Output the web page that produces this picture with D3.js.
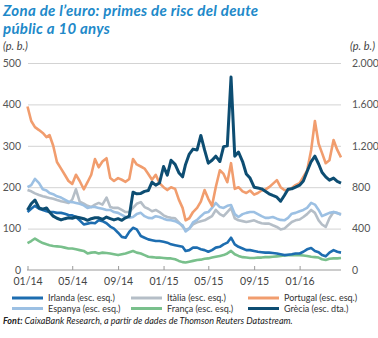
<!DOCTYPE html>
<html><head><meta charset="utf-8">
<script src="https://cdn.jsdelivr.net/npm/d3@7"></script>
<style>
html,body{margin:0;padding:0;background:#fff;}
svg{display:block;}
</style></head>
<body><svg id="c" width="378" height="338"></svg>
<script>
const dates = ["2014-01-01","2014-01-11","2014-01-21","2014-02-01","2014-02-11","2014-02-21","2014-03-01","2014-03-11","2014-03-21","2014-04-01","2014-04-11","2014-04-21","2014-05-01","2014-05-11","2014-05-21","2014-06-01","2014-06-11","2014-06-21","2014-07-01","2014-07-11","2014-07-21","2014-08-01","2014-08-11","2014-08-21","2014-09-01","2014-09-11","2014-09-21","2014-10-01","2014-10-11","2014-10-21","2014-11-01","2014-11-11","2014-11-21","2014-12-01","2014-12-11","2014-12-21","2015-01-01","2015-01-11","2015-01-21","2015-02-01","2015-02-11","2015-02-21","2015-03-01","2015-03-11","2015-03-21","2015-04-01","2015-04-11","2015-04-21","2015-05-01","2015-05-11","2015-05-21","2015-06-01","2015-06-11","2015-06-21","2015-07-01","2015-07-11","2015-07-21","2015-08-01","2015-08-11","2015-08-21","2015-09-01","2015-09-11","2015-09-21","2015-10-01","2015-10-11","2015-10-21","2015-11-01","2015-11-11","2015-11-21","2015-12-01","2015-12-11","2015-12-21","2016-01-01","2016-01-11","2016-01-21","2016-02-01","2016-02-11","2016-02-21","2016-03-01","2016-03-11","2016-03-21","2016-04-01","2016-04-11","2016-04-21"];

const irlanda = [140,148,155,148,145,142,140,140,138,138,136,133,132,128,120,110,112,114,113,120,118,113,105,100,90,80,78,92,102,98,82,78,74,72,70,70,68,66,62,60,58,56,46,48,54,54,50,48,44,48,54,56,62,66,78,62,56,52,48,48,46,44,43,42,42,41,40,38,36,37,38,40,40,44,50,53,46,43,36,33,42,48,44,42];
const italia = [193,190,185,181,178,176,174,172,169,166,164,162,170,195,165,160,155,152,158,162,158,175,152,150,150,145,140,140,150,160,164,152,148,142,145,140,132,128,126,125,115,105,97,100,110,115,118,120,125,130,145,135,130,140,150,125,120,118,116,118,120,116,113,112,112,108,104,98,100,108,116,120,122,128,135,145,138,120,110,104,125,140,137,135];
const portugal = [395,360,345,338,331,321,326,300,261,245,230,215,208,230,215,195,212,230,268,248,262,270,222,215,222,218,213,220,268,255,250,245,232,218,230,210,200,193,200,196,170,150,120,125,140,150,165,193,172,155,200,241,232,212,258,196,200,190,186,192,182,186,192,194,200,208,217,200,193,193,198,205,210,225,240,290,360,305,283,258,265,314,290,272];
const espanya = [200,205,220,210,195,192,186,183,178,175,170,165,164,162,160,156,150,152,152,150,148,145,145,140,138,133,128,126,128,135,138,130,126,125,130,128,124,121,120,118,113,108,93,100,115,121,130,138,140,150,162,152,150,155,157,135,128,135,138,140,140,135,130,126,126,128,124,121,120,126,136,138,142,145,150,162,158,145,130,134,138,140,138,133];
const franca = [65,70,76,70,65,62,60,58,57,56,54,52,52,50,48,46,40,42,43,40,42,41,40,38,36,38,40,43,46,42,40,36,32,31,30,30,29,28,28,26,22,19,18,20,22,24,25,27,28,30,32,34,36,40,46,38,34,31,30,29,29,30,30,31,31,32,33,34,35,36,36,36,36,35,34,32,31,30,26,24,27,28,28,29];
const grecia = [580,640,676,600,588,600,560,520,500,484,496,504,500,512,504,496,480,496,504,504,488,512,496,484,496,480,504,520,752,736,740,760,768,848,820,840,1000,916,1060,1020,940,900,1020,1120,1168,1160,1300,1160,1032,1060,1100,1048,1192,1200,1864,1100,1140,1048,928,888,800,792,784,760,736,720,704,664,720,780,784,800,820,860,952,1048,1100,1024,944,900,868,888,856,840];

const xTicks = ["2014-01-01","2014-05-01","2014-09-01","2015-01-01","2015-05-01","2015-09-01","2016-01-01"];
const xTickLabels = ["01/14","05/14","09/14","01/15","05/15","09/15","01/16"];
const leftTicks = [0,100,200,300,400,500];
const rightTicks = [0,400,800,1200,1600,2000];

const parse = d3.timeParse("%Y-%m-%d");
const D = dates.map(parse);

const series = [
  {name:"Itàlia (esc. esq.)", values:italia, color:"#b5bec7", axis:"L"},
  {name:"Espanya (esc. esq.)", values:espanya, color:"#9cc0e3", axis:"L"},
  {name:"França (esc. esq.)", values:franca, color:"#79c08c", axis:"L"},
  {name:"Irlanda (esc. esq.)", values:irlanda, color:"#1d6db0", axis:"L"},
  {name:"Portugal (esc. esq.)", values:portugal, color:"#f19d6e", axis:"L"},
  {name:"Grècia (esc. dta.)", values:grecia, color:"#0d4d72", axis:"R"}
];

const svg = d3.select("#c");
const x = d3.scaleTime().domain([parse("2014-01-01"), parse("2016-04-21")]).range([27.5, 341]);
const yL = d3.scaleLinear().domain([0,500]).range([270,63]);
const yR = d3.scaleLinear().domain([0,2000]).range([270,63]);
const loc = d3.formatLocale({decimal:",", thousands:".", grouping:[3], currency:["",""]});
const fmt = loc.format(",");

// title
const titleLines = ["Zona de l’euro: primes de risc del deute","públic a 10 anys"];
titleLines.forEach((t,i)=>{
  svg.append("text").attr("x",3).attr("y",16 + i*18).attr("font-family","Lato").attr("font-weight","bold")
    .attr("font-style","italic").attr("font-size",15).attr("letter-spacing",0.3).attr("fill","#2189c9").text(t);
});

svg.append("text").attr("x",3).attr("y",50).attr("font-family","Lato").attr("font-style","italic")
  .attr("font-size",11).attr("fill","#444").text("(p. b.)");
svg.append("text").attr("x",375).attr("y",50).attr("text-anchor","end").attr("font-family","Lato").attr("font-style","italic")
  .attr("font-size",11).attr("fill","#444").text("(p. b.)");

// grid
const grid = svg.append("g").attr("transform","translate(28,0)")
  .call(d3.axisRight(yL).tickValues(leftTicks.filter(d=>d>0)).tickSize(313).tickFormat(""));
grid.select(".domain").remove();
grid.selectAll("line").attr("stroke","#d3d3d3").attr("stroke-width",1);

// left axis labels
const gl = svg.append("g").attr("transform","translate(24,0)")
  .call(d3.axisLeft(yL).tickValues(leftTicks).tickSize(0).tickPadding(3));
gl.select(".domain").remove();
gl.selectAll("text").attr("font-family","Lato").attr("font-size",10.5).attr("fill","#555");

// right axis labels
const gr = svg.append("g").attr("transform","translate(350,0)")
  .call(d3.axisRight(yR).tickValues(rightTicks).tickSize(0).tickPadding(2).tickFormat(fmt));
gr.select(".domain").remove();
gr.selectAll("text").attr("font-family","Lato").attr("font-size",10.5).attr("fill","#555");

// x axis
const gx = svg.append("g").attr("transform","translate(0,270)")
  .call(d3.axisBottom(x).tickValues(xTicks.map(parse)).tickSize(-4).tickPadding(8)
    .tickFormat((d,i)=>xTickLabels[i]));
gx.select(".domain").attr("stroke","#9a9a9a").attr("d","M27,0H341");
gx.selectAll("line").attr("stroke","#9a9a9a");
gx.selectAll("text").attr("font-family","Lato").attr("font-size",10.5).attr("fill","#444");

// lines
series.forEach(s=>{
  const yy = s.axis==="L" ? yL : yR;
  const line = d3.line().x((d,i)=>x(D[i])).y(d=>yy(d)).curve(d3.curveLinear);
  svg.append("path").datum(s.values).attr("d",line).attr("fill","none")
    .attr("stroke",s.color).attr("stroke-width",s.axis==="R"?3:2.6).attr("stroke-linejoin","round");
});

// legend
const legendItems = [
  {name:"Irlanda (esc. esq.)", color:"#1d6db0", col:0,row:0},
  {name:"Itàlia (esc. esq.)", color:"#b5bec7", col:1,row:0},
  {name:"Portugal (esc. esq.)", color:"#f19d6e", col:2,row:0},
  {name:"Espanya (esc. esq.)", color:"#9cc0e3", col:0,row:1},
  {name:"França (esc. esq.)", color:"#79c08c", col:1,row:1},
  {name:"Grècia (esc. dta.)", color:"#0d4d72", col:2,row:1}
];
const colX = [12,131,248];
const lg = svg.append("g");
legendItems.forEach(it=>{
  const gx0 = colX[it.col], gy = 298 + it.row*10.5;
  lg.append("line").attr("x1",gx0).attr("x2",gx0+31).attr("y1",gy).attr("y2",gy)
    .attr("stroke",it.color).attr("stroke-width",3);
  lg.append("text").attr("x",gx0+36).attr("y",gy+3).attr("font-family","Lato").attr("font-size",9)
    .attr("fill","#333").text(it.name);
});

// source
const src = svg.append("text").attr("x",3).attr("y",323.5).attr("font-family","Lato").attr("font-style","italic")
  .attr("font-size",9).attr("fill","#222");
src.append("tspan").attr("font-weight","bold").text("Font: ");
src.append("tspan").text("CaixaBank Research, a partir de dades de Thomson Reuters Datastream.");
</script>
</body></html>
